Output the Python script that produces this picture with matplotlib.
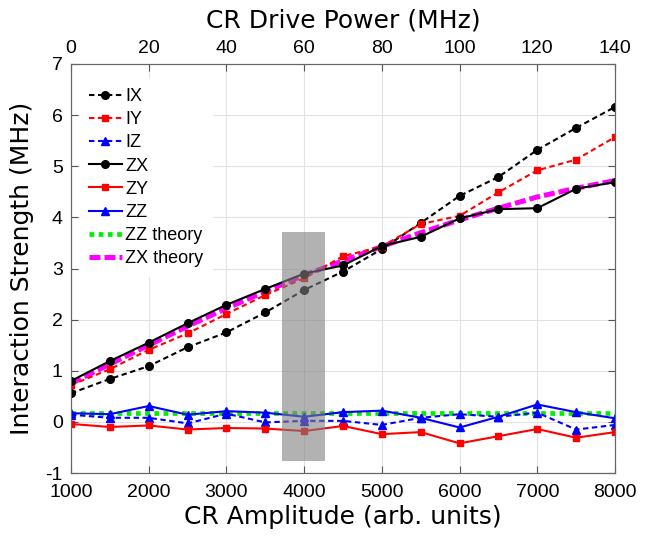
import matplotlib
matplotlib.use('Agg')
import matplotlib.pyplot as plt
from matplotlib.patches import Rectangle

plt.rcParams['axes.unicode_minus'] = False

amp = [1000, 1500, 2000, 2500, 3000, 3500, 4000, 4500, 5000, 5500, 6000, 6500, 7000, 7500, 8000]
IX = [0.56, 0.84, 1.09, 1.46, 1.75, 2.14, 2.58, 2.94, 3.38, 3.89, 4.42, 4.79, 5.32, 5.75, 6.16]
IY = [0.72, 1.03, 1.41, 1.73, 2.11, 2.48, 2.81, 3.24, 3.43, 3.87, 4.03, 4.49, 4.92, 5.13, 5.57]
IZ = [0.14, 0.08, 0.08, -0.03, 0.16, -0.01, 0.02, 0.02, -0.06, 0.08, 0.15, 0.10, 0.18, -0.15, -0.06]
ZX = [0.80, 1.19, 1.55, 1.93, 2.29, 2.60, 2.90, 3.06, 3.44, 3.62, 3.98, 4.16, 4.18, 4.56, 4.69]
ZY = [-0.04, -0.10, -0.07, -0.15, -0.12, -0.13, -0.18, -0.08, -0.24, -0.20, -0.42, -0.28, -0.14, -0.31, -0.20]
ZZ = [0.17, 0.15, 0.31, 0.14, 0.21, 0.18, 0.10, 0.19, 0.22, 0.08, -0.11, 0.10, 0.34, 0.19, 0.07]
ZZ_theory = [0.17, 0.17, 0.17, 0.17, 0.17, 0.17, 0.17, 0.17, 0.17, 0.17, 0.17, 0.17, 0.17, 0.17, 0.17]
ZX_theory = [0.75, 1.13, 1.50, 1.87, 2.22, 2.55, 2.87, 3.15, 3.43, 3.70, 3.95, 4.18, 4.40, 4.57, 4.72]

shade_x = (3720, 4270)
shade_y = (-0.77, 3.72)
power_ticks = [0, 20, 40, 60, 80, 100, 120, 140]
amp_ticks = [1000, 2000, 3000, 4000, 5000, 6000, 7000, 8000]

TICKFONT = 'Liberation Sans'
LABELFONT = 'DejaVu Sans'

fig = plt.figure(figsize=(6.47, 5.37), dpi=100)
ax = fig.add_axes([71/647, 1-473/537, (615-71)/647, (473-64)/537])

dash = (0, (2.6, 1.7))
ax.plot(amp, ZX_theory, color='magenta', lw=3.6, ls=(0, (2.2, 0.8)), label='ZX theory', zorder=2)
ax.plot(amp, ZZ_theory, color='#00ee00', lw=3.4, ls=(0, (1, 0.95)), label='ZZ theory', zorder=2)
ax.plot(amp, IX, color='black', lw=1.5, ls=dash, marker='o', ms=5.5, label='IX', zorder=3)
ax.plot(amp, IY, color='red', lw=1.5, ls=dash, marker='s', ms=5, label='IY', zorder=3)
ax.plot(amp, IZ, color='blue', lw=1.5, ls=dash, marker='^', ms=6, label='IZ', zorder=3)
ax.plot(amp, ZX, color='black', lw=1.5, marker='o', ms=5.5, label='ZX', zorder=3)
ax.plot(amp, ZY, color='red', lw=1.5, marker='s', ms=5, label='ZY', zorder=3)
ax.plot(amp, ZZ, color='blue', lw=1.5, marker='^', ms=6, label='ZZ', zorder=3)

ax.add_patch(Rectangle((shade_x[0], shade_y[0]), shade_x[1]-shade_x[0], shade_y[1]-shade_y[0],
                       facecolor='#808080', alpha=0.6, edgecolor='none', zorder=4))

ax.set_xlim(1000, 8000)
ax.set_ylim(-1, 7)
ax.set_xticks(amp_ticks)
ax.set_yticks(range(-1, 8))
ax.grid(True, color='#e2e2e2', lw=0.8)
ax.set_axisbelow(True)
ax.tick_params(direction='in', length=5, color='#555555', right=True, top=False, labelsize=14)
ax.tick_params(axis='x', pad=8)
ax.tick_params(axis='y', pad=6)
for lab in ax.get_xticklabels() + ax.get_yticklabels():
    lab.set_fontfamily(TICKFONT)
for s in ax.spines.values():
    s.set_color('#666666')
ax.set_xlabel('CR Amplitude (arb. units)', fontsize=18, family=LABELFONT, labelpad=3)
ax.set_ylabel('Interaction Strength (MHz)', fontsize=18, family=LABELFONT, labelpad=8)

ax2 = ax.twiny()
ax2.set_xlim(0, 140)
ax2.set_xticks(power_ticks)
ax2.tick_params(direction='in', length=5, color='#555555', labelsize=14, pad=5)
for lab in ax2.get_xticklabels():
    lab.set_fontfamily(TICKFONT)
for s in ax2.spines.values():
    s.set_color('#666666')
ax2.set_xlabel('CR Drive Power (MHz)', fontsize=18, family=LABELFONT, labelpad=9)

handles, labels = ax.get_legend_handles_labels()
order = ['IX', 'IY', 'IZ', 'ZX', 'ZY', 'ZZ', 'ZZ theory', 'ZX theory']
hmap = dict(zip(labels, handles))
leg = ax.legend([hmap[k] for k in order], order, loc='upper left', bbox_to_anchor=(0.0, 0.985),
                prop={'family': TICKFONT, 'size': 13}, frameon=True, facecolor='white',
                edgecolor='white', framealpha=1, fancybox=False, handlelength=1.8,
                handletextpad=0.2, labelspacing=0.34, borderpad=0.5)
leg.set_zorder(5)

fig.savefig('out.png', dpi=100)
